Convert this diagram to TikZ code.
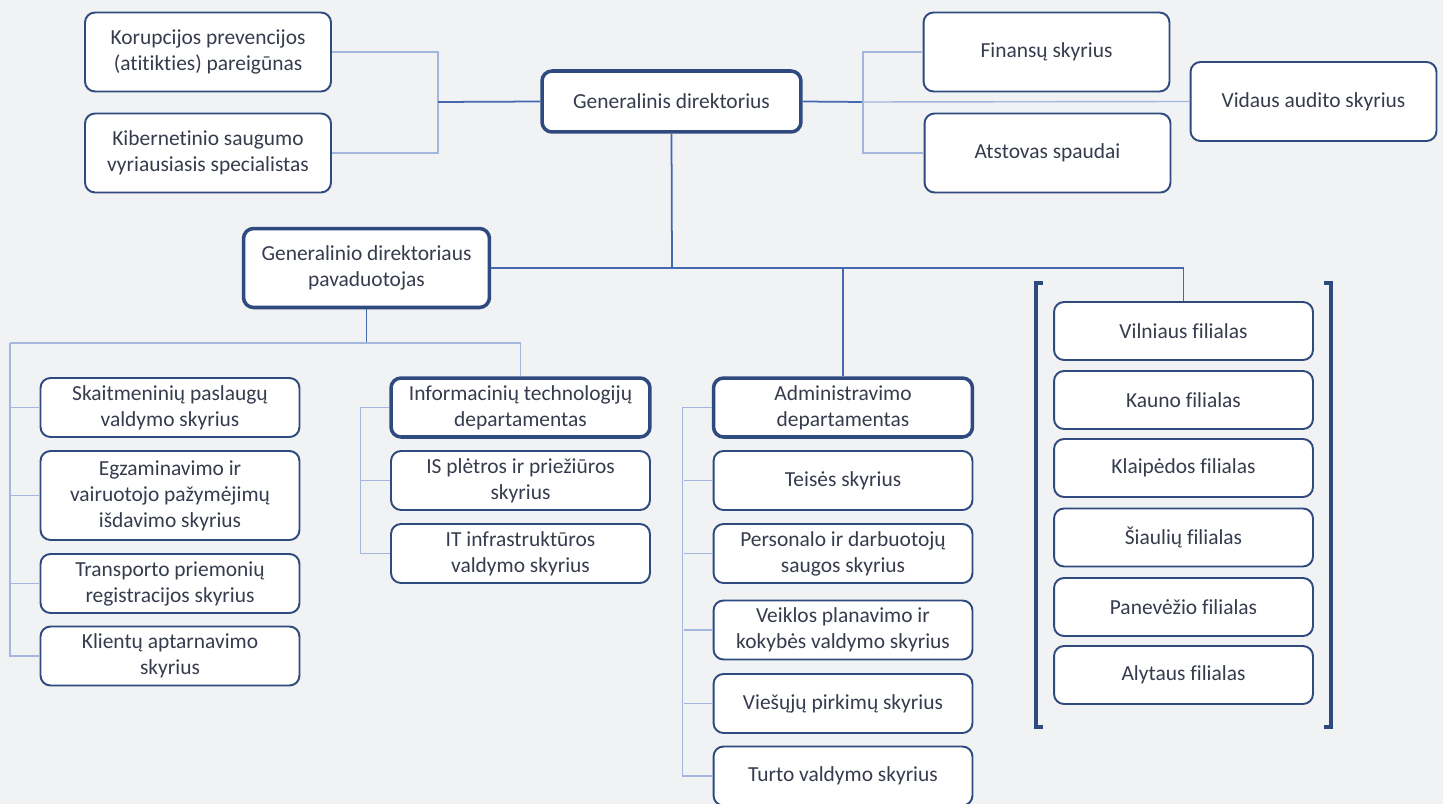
\documentclass[tikz,border=0pt]{standalone}
\usepackage{fontspec}
\setmainfont{Carlito}[Ligatures=NoCommon]
\definecolor{boxline}{HTML}{2F4A7E}
\definecolor{textcol}{HTML}{363C4E}
\definecolor{linedark}{HTML}{4668B0}
\definecolor{linelight}{HTML}{A3B6DD}
\definecolor{bgcol}{HTML}{F1F2F4}

\begin{document}
\begin{tikzpicture}[x=0.02cm, y=-0.02cm, font=\fontsize{12.2}{14.8}\selectfont, text=textcol]
	\fill[bgcol] (0,0) rectangle (1443,804);
	\useasboundingbox (0,0) rectangle (1443,804);
      \tikzstyle{box} = [draw=boxline, fill=white, rounded corners=0.2cm, line width=1.1pt, align=center, inner sep=0pt]
      \tikzstyle{head} = [box, line width=2pt]
      \tikzstyle{topbox} = [minimum width=4.92cm, minimum height=1.58cm]
      \tikzstyle{unit} = [minimum width=5.18cm, minimum height=1.18cm]
      \tikzstyle{filial} = [box, minimum width=5.18cm, minimum height=1.16cm]
      \tikzstyle{thin} = [draw=linelight, line width=0.8pt]
      \tikzstyle{thick} = [draw=linedark, line width=1pt]
      \node (gd) at (671.5,101.5) [head, minimum width=5.18cm, minimum height=1.22cm] {Generalinis direktorius};
      \node (kor) at (208,52) [box, topbox] {Korupcijos prevencijos\\(atitikties) pareigūnas};
      \node (kib) at (208,153) [box, topbox] {Kibernetinio saugumo\\vyriausiasis specialistas};
      \node (fin) at (1046.5,52) [box, topbox] {Finansų skyrius};
      \node (vid) at (1313.5,101.5) [box, topbox] {Vidaus audito skyrius};
      \node (spa) at (1047.5,153) [box, topbox] {Atstovas spaudai};
      \node (pav) at (366.5,268) [head, topbox] {Generalinio direktoriaus\\pavaduotojas};
      \node (skt) at (170,407.5) [box, unit] {Skaitmeninių paslaugų\\valdymo skyrius};
      \node (egz) at (170,495.5) [box, unit, minimum height=1.78cm] {Egzaminavimo ir\\vairuotojo pažymėjimų\\išdavimo skyrius};
      \node (tra) at (170,583.5) [box, unit] {Transporto priemonių\\registracijos skyrius};
      \node (kli) at (170,656) [box, unit] {Klientų aptarnavimo\\skyrius};
      \node (itd) at (520.5,407.5) [head, unit] {Informacinių technologijų\\departamentas};
      \node (isp) at (520.5,480.5) [box, unit] {IS plėtros ir priežiūros\\skyrius};
      \node (iti) at (520.5,553.5) [box, unit] {IT infrastruktūros\\valdymo skyrius};
      \node (adm) at (843,407.5) [head, unit] {Administravimo\\departamentas};
      \node (tei) at (843,480.5) [box, unit] {Teisės skyrius};
      \node (per) at (843,553.5) [box, unit] {Personalo ir darbuotojų\\saugos skyrius};
      \node (vei) at (843,630) [box, unit] {Veiklos planavimo ir\\kokybės valdymo skyrius};
      \node (vpk) at (843,703.5) [box, unit] {Viešųjų pirkimų skyrius};
      \node (tur) at (843,776) [box, unit] {Turto valdymo skyrius};
      \node (vil) at (1183.5,331) [filial] {Vilniaus filialas};
      \node (kau) at (1183.5,400) [filial] {Kauno filialas};
      \node (kla) at (1183.5,468) [filial] {Klaipėdos filialas};
      \node (sia) at (1183.5,537.5) [filial] {Šiaulių filialas};
      \node (pan) at (1183.5,607) [filial] {Panevėžio filialas};
      \node (aly) at (1183.5,675) [filial] {Alytaus filialas};
      \coordinate (lj) at (438,102);
      \coordinate (rj) at (863,102);
      \coordinate (mj) at (672,268);
      \coordinate (pj) at (366.5,343);
      \coordinate (lt) at (10,343);
      \draw[thin] (kor.east) -| (lj) |- (kib.east);
      \draw[thick] (lj) -- (gd.west);
      \draw[thick] (gd.east) -- (rj);
      \draw[thin] (fin.west) -| (rj) |- (spa.west);
      \draw[thin] (rj) -- (vid.west);
      \draw[thick] (gd.south) -- (mj);
      \draw[thick] (pav.east) -- (vil.north |- mj) -- (vil.north);
      \draw[thick] (adm.north |- mj) -- (adm.north);
      \draw[thick] (pav.south) -- (pj);
      \draw[thin] (lt) -- (itd.north |- pj) -- (itd.north);
      \draw[thin] (lt) |- (kli.west);
      \foreach \n in {skt,egz,tra} \draw[thin] (lt |- \n.west) -- (\n.west);
      \draw[thin] (itd.west) -- ++(-29,0) |- (iti.west);
      \draw[thin] (isp.west) -- ++(-29,0);
      \draw[thin] (adm.west) -- ++(-29,0) |- (tur.west);
      \foreach \n in {tei,per,vei,vpk} \draw[thin] (\n.west) -- ++(-29,0);
      \draw[draw=boxline, line width=2pt] (1043,283) -- (1036,283) -- (1036,727) -- (1043,727);
      \draw[draw=boxline, line width=2pt] (1324,283) -- (1331,283) -- (1331,727) -- (1324,727);
\end{tikzpicture}
\end{document}
